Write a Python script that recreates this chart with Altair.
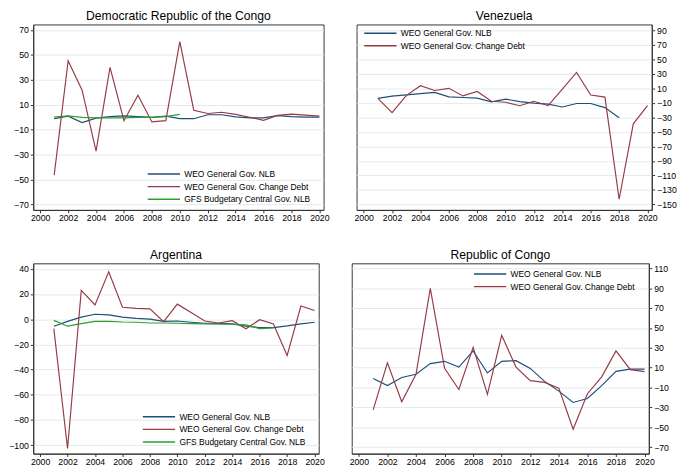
import altair as alt
import pandas as pd

YEARS = list(range(2001, 2021))
N_NLB = "WEO General Gov. NLB"
N_DEBT = "WEO General Gov. Change Debt"
N_GFS = "GFS Budgetary Central Gov. NLB"

# Democratic Republic of the Congo
drc_nlb = [-1.2, 0.8, -4.3, -0.7, 0.5, 1.0, 0.5, -0.2, 0.8, -1.2, -1.2, 2.0, 2.0, 0.3, -0.5, -0.5, 1.3, 0.5, 0.0, 0.0]
drc_debt = [-46.5, 45.3, 21.7, -27.2, 40.0, -2.8, 17.6, -3.8, -2.8, 60.8, 5.6, 3.0, 4.0, 2.3, 0.0, -2.5, 1.5, 2.5, 1.7, 0.8]
drc_gfs = [0.0, 1.0, -0.2, -0.5, -0.5, -0.5, -0.2, -0.2, 0.5, 2.3]

# Venezuela
ven_nlb = [-3.9, -0.8, 0.9, 2.7, 4.4, -1.7, -2.6, -3.4, -8.7, -4.8, -8.3, -10.4, -11.7, -15.7, -10.9, -10.9, -16.5, -30.5]
ven_debt = [-3.9, -23.5, 0.0, 13.6, 7.0, 10.0, -0.4, 5.7, -7.8, -9.1, -13.9, -7.8, -13.9, 9.0, 31.9, 0.9, -2.1, -142.8, -38.8, -13.9]

# Argentina
arg_nlb = [-5.5, -1.7, 1.7, 4.0, 3.5, 1.7, 0.7, 0.1, -1.7, -1.4, -2.4, -3.2, -3.2, -3.7, -5.5, -6.6, -6.6, -5.3, -3.7, -2.4]
arg_debt = [-7.4, -102.6, 22.9, 11.3, 37.7, 9.5, 8.7, 8.2, -1.9, 12.0, 5.3, -1.4, -3.0, -1.1, -7.6, -0.4, -3.7, -28.8, 10.5, 6.9]
arg_gfs = [-0.9, -5.5, -3.5, -1.7, -1.7, -2.2, -2.4, -3.0, -3.0, -3.2, -3.5, -3.7, -4.0, -4.0, -4.5, -7.4, -6.8]

# Republic of Congo
roc_nlb = [-0.9, -8.0, 0.1, 3.4, 14.1, 16.4, 10.6, 26.9, 4.7, 16.4, 17.1, 9.3, -3.8, -13.6, -25.0, -21.0, -8.0, 6.3, 8.6, 8.6]
roc_debt = [-32.5, 14.8, -24.3, 3.4, 89.8, 9.3, -12.0, 30.4, -16.8, 42.5, 10.6, -3.1, -4.8, -10.6, -52.0, -16.2, 0.8, 26.9, 8.0, 6.0]

X_TICKS = list(range(2000, 2021, 2))
BLUE, RED, GREEN = "#1f4e79", "#963a45", "#2ca02c"
FONT = "Liberation Sans"
# legend line symbol: a wide horizontal stroke in unit coordinates
SYM_PATH = "M-4,0H4"
SYM_SIZE = 69  # sqrt(69)/2 * 8 ~ 33 px long line


def long_df(series):
    rows = []
    for name, vals in series:
        for yr, v in zip(YEARS, vals):
            rows.append({"year": yr, "value": v, "series": name})
    return pd.DataFrame(rows)


def panel(title, series, ydom, yticks, orient, lx, ly, w, h):
    names = [n for n, _ in series]
    colors = {N_NLB: BLUE, N_DEBT: RED, N_GFS: GREEN}
    df = long_df(series)
    return alt.Chart(df).mark_line(strokeWidth=1.2, clip=True).encode(
        x=alt.X("year:Q",
                scale=alt.Scale(domain=[1999.5, 2020.3], nice=False, zero=False),
                axis=alt.Axis(values=X_TICKS, format="d", title=None, grid=False)),
        y=alt.Y("value:Q",
                scale=alt.Scale(domain=ydom, nice=False, zero=False),
                axis=alt.Axis(values=yticks, orient=orient, title=None, grid=True,
                              labelPadding=2)),
        color=alt.Color("series:N", sort=names,
                        scale=alt.Scale(domain=names, range=[colors[n] for n in names]),
                        legend=alt.Legend(orient="none", legendX=lx + 12.5, legendY=ly,
                                          title=None, symbolType=SYM_PATH,
                                          symbolSize=SYM_SIZE, symbolStrokeWidth=1.5,
                                          labelFontSize=8.7, labelFont=FONT,
                                          labelOffset=16, rowPadding=3.0,
                                          padding=0)),
        order="year:Q",
    ).properties(width=w, height=h,
                 title=alt.TitleParams(title, fontSize=12.5, fontWeight="normal",
                                       font=FONT, offset=2, color="black"))


H_TOP, H_BOT = 191, 196
W_DRC, W_VEN, W_ARG, W_ROC = 299, 304, 294, 306

drc = panel("Democratic Republic of the Congo",
            [(N_NLB, drc_nlb), (N_DEBT, drc_debt), (N_GFS, drc_gfs)],
            [-74.5, 74.5], list(range(-70, 71, 20)), "left",
            W_DRC - 182, H_TOP - 42, W_DRC, H_TOP)
ven = panel("Venezuela",
            [(N_NLB, ven_nlb), (N_DEBT, ven_debt)],
            [-157.5, 98], list(range(-150, 91, 20)), "right",
            7, 4, W_VEN, H_TOP)
arg = panel("Argentina",
            [(N_NLB, arg_nlb), (N_DEBT, arg_debt), (N_GFS, arg_gfs)],
            [-106.7, 44.4], list(range(-100, 41, 20)), "left",
            W_ARG - 182, H_BOT - 43, W_ARG, H_BOT)
roc = panel("Republic of Congo",
            [(N_NLB, roc_nlb), (N_DEBT, roc_debt)],
            [-76.5, 115], list(range(-70, 111, 20)), "right",
            W_ROC - 181, 6, W_ROC, H_BOT)

top = alt.hconcat(drc, ven, spacing=23, bounds="full").resolve_scale(color="independent")
bottom = alt.hconcat(arg, roc, spacing=23, bounds="full").resolve_scale(color="independent")

chart = alt.concat(top, bottom, columns=1, spacing=26, bounds="full", align="none").resolve_scale(
    color="independent"
).properties(
    padding={"left": 0, "top": -5, "right": 0, "bottom": 0}
).configure_view(
    stroke="#333333", strokeWidth=1
).configure_axis(
    labelFont=FONT, labelFontSize=9, labelColor="black", tickColor="#333333",
    domainColor="#333333", gridColor="#e2eaee", tickSize=3, labelPadding=1,
    domain=True
).configure_legend(
    labelColor="black"
)

chart.save("out.html", embed_options={"renderer": "svg", "actions": False})
